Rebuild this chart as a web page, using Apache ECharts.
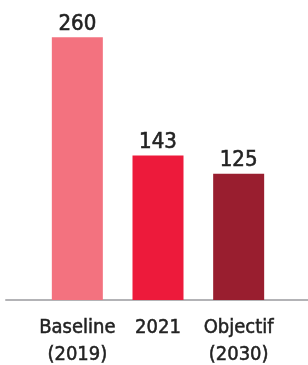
<!DOCTYPE html>
<html>
<head>
<meta charset="utf-8">
<script src="https://cdn.jsdelivr.net/npm/echarts@6/dist/echarts.min.js"></script>
<style>
  html, body { margin: 0; padding: 0; background: #fff; }
  #chart { width: 308px; height: 365px; }
</style>
</head>
<body>
<div id="chart"></div>
<script>
// data
const categories = ["Baseline\n(2019)", "2021", "Objectif\n(2030)"]
const values = [260, 143, 125]
const barColors = ["#f3727f", "#ed1a3b", "#991e2f"]

const font = "'Liberation Sans Narrow', 'DejaVu Sans Condensed', 'Roboto', sans-serif"

const chart = echarts.init(document.getElementById("chart"), null, { renderer: "canvas" })

const option = {
  animation: false,
  grid: [
    { left: 37, right: 29, top: 7, bottom: 65, outerBoundsMode: "none", containLabel: false },
    // only used to draw the long baseline under the bars
    { left: 6, right: 0, top: 7, bottom: 65, outerBoundsMode: "none", containLabel: false }
  ],
  xAxis: [
    {
      type: "category",
      gridIndex: 0,
      data: categories,
      axisLine: { show: false },
      axisTick: { show: false },
      axisLabel: {
        interval: 0,
        margin: 14,
        color: "#222",
        fontFamily: font,
        fontSize: 20,
        lineHeight: 27,
        textBorderColor: "#222",
        textBorderWidth: 0.5
      }
    },
    {
      type: "category",
      gridIndex: 1,
      data: [""],
      axisLine: { show: true, lineStyle: { color: "#b3b3b6", width: 2 } },
      axisTick: { show: false },
      axisLabel: { show: false }
    }
  ],
  yAxis: [
    { type: "value", gridIndex: 0, min: 0, max: 290, show: false },
    { type: "value", gridIndex: 1, min: 0, max: 290, show: false }
  ],
  series: [
    {
      type: "bar",
      xAxisIndex: 0,
      yAxisIndex: 0,
      barWidth: 51,
      data: values.map((v, i) => ({ value: v, itemStyle: { color: barColors[i] } })),
      label: {
        show: true,
        position: "top",
        distance: 2,
        color: "#222",
        fontFamily: font,
        fontSize: 22,
        textBorderColor: "#222",
        textBorderWidth: 0.6
      }
    }
  ]
}

chart.setOption(option)
</script>
</body>
</html>
